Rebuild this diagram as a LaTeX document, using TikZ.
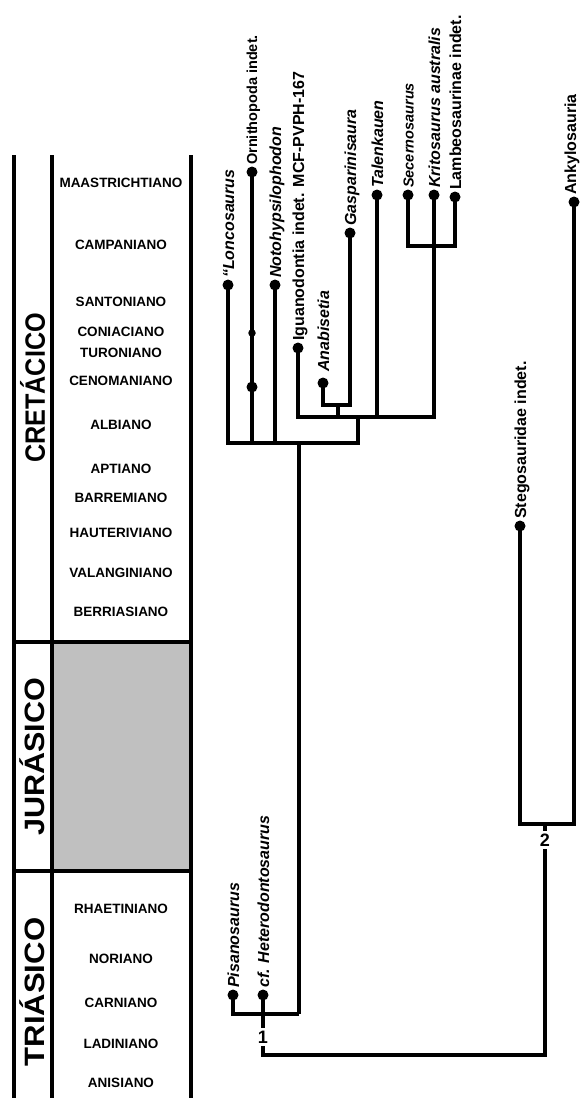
\documentclass[tikz,border=0pt]{standalone}
\usepackage{fontspec}
\setmainfont{Liberation Sans}
\usepackage{graphicx}
\definecolor{jurgray}{RGB}{192,192,192}
\begin{document}
\begin{tikzpicture}[x=1pt,y=-1pt,
  col/.style={line width=3.8pt},
  br/.style={line width=3.2pt,line join=miter},
  tip/.style={circle,fill=black,inner sep=0pt,minimum size=11pt},
  smalltip/.style={circle,fill=black,inner sep=0pt,minimum size=7.5pt},
  lab/.style={rotate=90,anchor=base west,inner sep=0pt,font=\fontsize{16}{18}\selectfont\bfseries},
  smalllab/.style={lab,font=\fontsize{14.5}{16}\selectfont\bfseries},
  stage/.style={anchor=center,inner sep=0pt,font=\fontsize{13.5}{15}\selectfont\bfseries},
  period/.style={rotate=90,anchor=base,inner sep=0pt,font=\fontsize{28}{30}\selectfont\bfseries},
  num/.style={fill=white,inner sep=3pt,font=\fontsize{18}{20}\selectfont\bfseries}
]
\useasboundingbox (0,0) rectangle (581,1104);

% ---- time column ----
\fill[jurgray] (52,642) rectangle (191,871);
\draw[col] (14,155) -- (14,1098);
\draw[col] (52,155) -- (52,1098);
\draw[col] (191,155) -- (191,1098);
\draw[col] (14,642) -- (191,642);
\draw[col] (14,871) -- (191,871);

\node[period] (cret) at (45,388) {\scalebox{0.9}[1]{CRETÁCICO}};
\node[period] (jur) at (45,757) {\scalebox{1.09}[1]{JURÁSICO}};
\node[period] (tri) at (45,992) {\scalebox{1.11}[1]{TRIÁSICO}};

\node[stage] (s1) at (121,183) {MAASTRICHTIANO};
\node[stage] (s2) at (121,245) {CAMPANIANO};
\node[stage] (s3) at (121,302) {SANTONIANO};
\node[stage] (s4) at (121,332) {CONIACIANO};
\node[stage] (s5) at (121,353) {TURONIANO};
\node[stage] (s6) at (121,381) {CENOMANIANO};
\node[stage] (s7) at (121,425) {ALBIANO};
\node[stage] (s8) at (121,469) {APTIANO};
\node[stage] (s9) at (121,498) {BARREMIANO};
\node[stage] (s10) at (121,533) {HAUTERIVIANO};
\node[stage] (s11) at (121,573) {VALANGINIANO};
\node[stage] (s12) at (121,612) {BERRIASIANO};
\node[stage] (s13) at (121,909) {RHAETINIANO};
\node[stage] (s14) at (121,959) {NORIANO};
\node[stage] (s15) at (121,1003) {CARNIANO};
\node[stage] (s16) at (121,1044) {LADINIANO};
\node[stage] (s17) at (121,1083) {ANISIANO};

% ---- tips ----
\node[tip] (lonc) at (228,285) {};
\node[tip] (orn) at (252,172) {};
\node[smalltip] (orn2) at (252,333) {};
\node[tip] (orn3) at (252,387) {};
\node[tip] (noto) at (275,285) {};
\node[tip] (igu) at (298,348) {};
\node[tip] (anab) at (323,383) {};
\node[tip] (gasp) at (350,233) {};
\node[tip] (tal) at (377,195) {};
\node[tip] (sec) at (408,195) {};
\node[tip] (krit) at (434,195) {};
\node[tip] (lamb) at (455,197) {};
\node[tip] (ank) at (574,202) {};
\node[tip] (steg) at (520,526) {};
\node[tip] (pis) at (233,995) {};
\node[tip] (het) at (263,995) {};

% ---- labels ----
\node[lab] (lonc-l) at (234,278) {\textit{\textquotedblleft Loncosaurus}};
\node[smalllab] (orn-l) at (257,165) {Ornithopoda indet.};
\node[lab] (noto-l) at (281,278) {\textit{Notohypsilophodon}};
\node[lab] (igu-l) at (304,341) {Iguanodontia indet. MCF-PVPH-167};
\node[lab] (anab-l) at (329,372) {\textit{Anabisetia}};
\node[lab] (gasp-l) at (356,226) {\textit{Gasparinisaura}};
\node[lab] (tal-l) at (383,188) {\textit{Talenkauen}};
\node[smalllab] (sec-l) at (413.5,188) {\textit{Secernosaurus}};
\node[lab] (krit-l) at (440,188) {\textit{Kritosaurus australis}};
\node[lab] (lamb-l) at (461,190) {Lambeosaurinae indet.};
\node[lab] (ank-l) at (576,195) {Ankylosauria};
\node[lab] (steg-l) at (526,519) {Stegosauridae indet.};
\node[lab] (pis-l) at (239,988) {\textit{Pisanosaurus}};
\node[lab] (het-l) at (269,988) {\textit{cf. Heterodontosaurus}};

% ---- junctions ----
\coordinate (cA) at (299,443);
\coordinate (cI) at (358,417);
\coordinate (cG) at (338,405);
\coordinate (cH) at (434,246);
\coordinate (c0) at (299,1014);
\coordinate (c1) at (263,1055);
\coordinate (c2) at (545,824);

% ---- branches ----
\draw[br] (lonc.center) |- (cI |- cA) -- (cI);
\draw[br] (orn.center) -- (orn |- cA);
\draw[br] (noto.center) -- (noto |- cA);
\draw[br] (igu.center) |- (krit |- cI) -- (krit.center);
\draw[br] (tal.center) -- (tal |- cI);
\draw[br] (cG) -- (cG |- cI);
\draw[br] (anab.center) |- (gasp |- cG) -- (gasp.center);
\draw[br] (sec.center) |- (lamb |- cH) -- (lamb.center);
\draw[br] (cA) -- (c0);
\draw[br] (pis.center) |- (c0);
\draw[br] (het.center) -- (c1) -| (c2);
\draw[br] (steg.center) |- (ank |- c2) -- (ank.center);

\node[num] (n1) at (263,1037) {1};
\node[num] (n2) at (545,840) {2};
\end{tikzpicture}
\end{document}
